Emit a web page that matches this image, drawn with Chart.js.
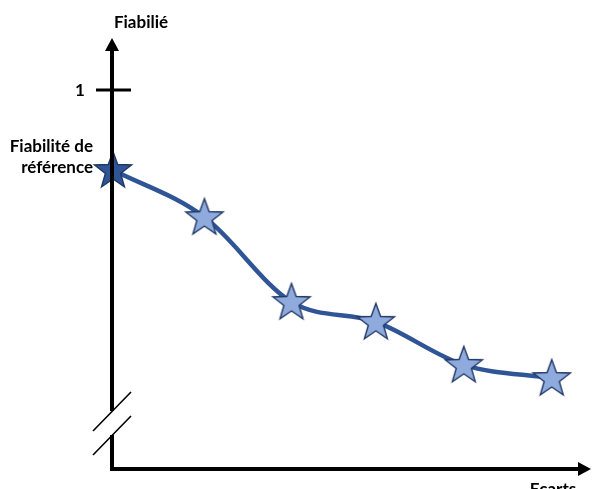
<!DOCTYPE html>
<html>
<head>
<meta charset="utf-8">
<script src="https://cdn.jsdelivr.net/npm/chart.js@4"></script>
<style>
  html, body { margin: 0; padding: 0; background: #fff; overflow: hidden; }
  #wrap { width: 593px; height: 489px; }
  canvas { display: block; }
</style>
</head>
<body>
<div id="wrap"><canvas id="chart" width="593" height="489"></canvas></div>
<script>
// ecarts (x) and fiabilité (y)
const ecarts = [0, 1.05, 2.05, 3.02, 4.03, 5.04];
const fiabilite = [0.788, 0.663, 0.438, 0.385, 0.271, 0.236];
const yTickValue = 1;
const yTickLabel = "1";
const yAxisTitle = "Fiabilié";
const xAxisTitle = "Ecarts";
const refLabel = ["Fiabilité de", "référence"];

const lineColor = "#2F5597";
const FONT = 'bold 17px Lato, "Noto Sans", sans-serif';

function makeStar(fill, stroke) {
  const c = document.createElement("canvas");
  c.width = 44; c.height = 44;
  const g = c.getContext("2d");
  const R = 19.5, r = 8, cx = 22, cy = 23;
  g.beginPath();
  for (let i = 0; i < 10; i++) {
    const rad = i % 2 === 0 ? R : r;
    const a = -Math.PI / 2 + i * Math.PI / 5;
    const px = cx + rad * Math.cos(a), py = cy + rad * Math.sin(a);
    if (i === 0) g.moveTo(px, py); else g.lineTo(px, py);
  }
  g.closePath();
  g.fillStyle = fill;
  g.fill();
  g.lineWidth = 1.4;
  g.strokeStyle = stroke;
  g.stroke();
  return c;
}

const darkStar = makeStar("#2F5597", "#1F3864");
const lightStar = makeStar("#8FAADC", "#203864");
const pointStyles = fiabilite.map((v, i) => i === 0 ? darkStar : lightStar);

// axes, arrows, break marks and labels
const axesPlugin = {
  id: "axesPlugin",
  afterDraw(chart) {
    const ctx = chart.ctx;
    const xs = chart.scales.x, ys = chart.scales.y;
    const ax = xs.getPixelForValue(0) - 1;
    const bottom = ys.getPixelForValue(0);
    const top = chart.chartArea.top;
    const right = chart.chartArea.right;
    const oneY = ys.getPixelForValue(yTickValue);
    ctx.save();
    ctx.strokeStyle = "#000";
    ctx.fillStyle = "#000";
    ctx.lineCap = "butt";

    // y axis with break gap
    ctx.lineWidth = 4;
    ctx.beginPath();
    ctx.moveTo(ax, top + 10);
    ctx.lineTo(ax, bottom - 56);
    ctx.moveTo(ax, bottom - 32);
    ctx.lineTo(ax, bottom + 2);
    ctx.lineTo(right - 10, bottom + 2);
    ctx.stroke();

    // arrow heads
    ctx.beginPath();
    ctx.moveTo(ax, top);
    ctx.lineTo(ax - 7, top + 13);
    ctx.lineTo(ax + 7, top + 13);
    ctx.closePath();
    ctx.fill();
    ctx.beginPath();
    ctx.moveTo(right + 1, bottom + 2);
    ctx.lineTo(right - 12, bottom + 2 - 7);
    ctx.lineTo(right - 12, bottom + 2 + 7);
    ctx.closePath();
    ctx.fill();

    // tick at 1
    ctx.lineWidth = 3;
    ctx.beginPath();
    ctx.moveTo(ax - 16, oneY);
    ctx.lineTo(ax + 19, oneY);
    ctx.stroke();

    // break marks
    ctx.lineWidth = 1.6;
    ctx.beginPath();
    ctx.moveTo(ax - 19, bottom - 36);
    ctx.lineTo(ax + 19, bottom - 75);
    ctx.moveTo(ax - 19, bottom - 12);
    ctx.lineTo(ax + 19, bottom - 51);
    ctx.stroke();

    // texts
    ctx.font = FONT;
    ctx.textBaseline = "middle";
    ctx.textAlign = "center";
    ctx.fillText(yAxisTitle, ax + 29, top - 15);
    ctx.fillText(yTickLabel, ax - 32, oneY);
    ctx.textAlign = "right";
    ctx.fillText(refLabel[0], ax - 19, ys.getPixelForValue(fiabilite[0]) - 23);
    ctx.fillText(refLabel[1], ax - 19, ys.getPixelForValue(fiabilite[0]) - 2);
    ctx.textAlign = "center";
    ctx.textBaseline = "alphabetic";
    ctx.fillText(xAxisTitle, right - 37, bottom + 28);
    ctx.restore();
  }
};

new Chart(document.getElementById("chart"), {
  type: "line",
  data: {
    datasets: [{
      data: ecarts.map((x, i) => ({ x, y: fiabilite[i] })),
      borderColor: lineColor,
      borderWidth: 4.5,
      cubicInterpolationMode: "monotone",
      pointStyle: pointStyles,
      pointRadius: 18,
      clip: false,
      fill: false
    }]
  },
  options: {
    responsive: false,
    animation: false,
    layout: { autoPadding: false, padding: { left: 113, right: 3, top: 38, bottom: 22 } },
    plugins: { legend: { display: false }, tooltip: { enabled: false } },
    scales: {
      x: { type: "linear", display: false, min: 0, max: 5.48 },
      y: { type: "linear", display: false, min: 0, max: 1.138 }
    }
  },
  plugins: [axesPlugin]
});
</script>
</body>
</html>
